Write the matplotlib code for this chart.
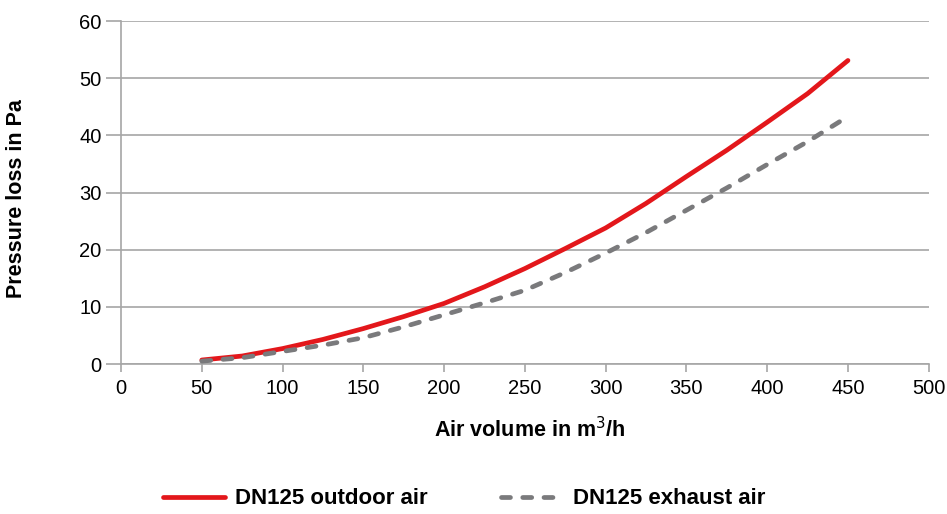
import matplotlib
matplotlib.use("Agg")
import matplotlib.pyplot as plt

plt.rcParams['font.family'] = ['Liberation Sans', 'DejaVu Sans']

# air volume (m3/h) and pressure loss (Pa)
air_volume = [50, 75, 100, 125, 150, 175, 200, 225, 250, 275, 300, 325, 350, 375, 400, 425, 450]
outdoor_air = [0.7, 1.4, 2.7, 4.3, 6.2, 8.3, 10.6, 13.5, 16.7, 20.2, 23.8, 28.1, 32.8, 37.4, 42.3, 47.3, 53.1]
exhaust_air = [0.5, 1.1, 2.2, 3.3, 4.6, 6.5, 8.6, 10.7, 12.9, 16.0, 19.4, 23.0, 26.9, 30.8, 34.9, 38.9, 43.3]

grid_col = '#a6a6a6'

fig = plt.figure(figsize=(9.47, 5.14), dpi=100)
ax = fig.add_axes([0.1278, 0.2918, 0.8529, 0.6673])

ax.plot(air_volume, outdoor_air, color='#e3171b', lw=3.4, solid_capstyle='round',
        solid_joinstyle='round', label='DN125 outdoor air', zorder=3)
ax.plot(air_volume, exhaust_air, color='#7a7a7c', lw=3.4, ls=(0, (1.9, 2.6)),
        dash_capstyle='round', label='DN125 exhaust air', zorder=3)

ax.set_xlim(0, 500)
ax.set_ylim(0, 60)
ax.set_xticks(range(0, 501, 50))
ax.set_yticks(range(0, 61, 10))
ax.yaxis.grid(True, color=grid_col, lw=1.2)
ax.set_axisbelow(True)

for s in ['top', 'right']:
    ax.spines[s].set_visible(False)
for s in ['left', 'bottom']:
    ax.spines[s].set_color(grid_col)
    ax.spines[s].set_linewidth(1.2)

ax.tick_params(axis='y', length=11, width=1.2, color=grid_col, labelsize=14.5, pad=3)
ax.tick_params(axis='x', length=6, width=1.2, color=grid_col, labelsize=14.5, pad=5)

fig.text(529.5 / 947, 1 - 437 / 514, 'Air volume in m$^3$/h', fontsize=15.5,
         fontweight='bold', ha='center', va='baseline')
fig.text(17 / 947, 1 - 199 / 514, 'Pressure loss in Pa', fontsize=15.5,
         fontweight='bold', rotation=90, ha='center', va='center')

fig.legend(*ax.get_legend_handles_labels(), loc='center left',
           bbox_to_anchor=(163 / 947, 1 - 499 / 514), ncol=2, frameon=False,
           prop={'weight': 'bold', 'size': 16}, handlelength=2.8, borderpad=0,
           borderaxespad=0, columnspacing=3.3, handletextpad=0.45)

fig.savefig('out.png', dpi=100)
